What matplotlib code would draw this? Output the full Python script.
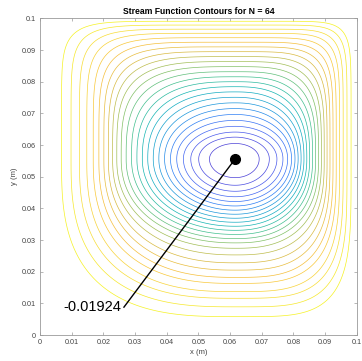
import numpy as np
import matplotlib
matplotlib.use("Agg")
import matplotlib.pyplot as plt
from matplotlib.colors import LinearSegmentedColormap

# --- datos ---
L = 0.1                      # lado de la cavidad [m]
PSI_MIN = -0.01924           # valor mínimo anotado
CENTER = (0.0616, 0.0556)    # posición del mínimo [m]
N_LEVELS = 25                # curvas entre el mínimo y 0

# cruces de las curvas con las rectas que pasan por el centro
# (k = número de curva contando desde el centro)
RIGHT_K = [1, 2, 3, 4, 14, 25]
RIGHT_X = [0.0692, 0.0724, 0.0748, 0.0767, 0.0870, 0.0982]
LEFT_K = [1, 2, 3, 14, 25]
LEFT_X = [0.0535, 0.0501, 0.0476, 0.0272, 0.0068]
UP_K = [1, 2, 3, 12, 21, 22, 23, 24, 25]
UP_Y = [0.0605, 0.0625, 0.0641, 0.0800, 0.0939, 0.0953, 0.0966, 0.0979, 0.0991]
DOWN_K = [1, 2, 3, 15, 16, 17, 18, 19, 20, 21, 22, 23, 24, 25]
DOWN_Y = [0.0497, 0.0473, 0.0454, 0.0291, 0.0274, 0.0253, 0.0228, 0.0205,
          0.0182, 0.0163, 0.0137, 0.0116, 0.0089, 0.0058]

# forma de las esquinas de la curva exterior (exponente de superelipse)
CORNER_P = {"TR": 10.0, "TL": 9.0, "BL": 3.0, "BR": 4.5}

LABEL_TEXT = "-0.01924"
LABEL_XY = (0.0265, 0.0088)
TICKS = [0, 0.01, 0.02, 0.03, 0.04, 0.05, 0.06, 0.07, 0.08, 0.09, 0.1]
TICK_LABELS = ["0", "0.01", "0.02", "0.03", "0.04", "0.05", "0.06", "0.07", "0.08", "0.09", "0.1"]

PARULA = ["#4a3fd6", "#4a5ef0", "#2e7cf6", "#1a9ad8", "#10b3b8", "#3fbf8f",
          "#8fc05e", "#d6ba43", "#f8bf3a", "#f7d93a", "#f5f223"]

NSEG = N_LEVELS + 1
levels = PSI_MIN * (1 - np.arange(1, NSEG) / NSEG)


def pchip(xk, yk, xq):
    # interpolación monótona (Fritsch-Carlson)
    xk = np.asarray(xk, float); yk = np.asarray(yk, float)
    hk = np.diff(xk); dk = np.diff(yk) / hk
    m = np.zeros_like(yk)
    for i in range(1, len(xk) - 1):
        if dk[i - 1] * dk[i] > 0:
            w1 = 2 * hk[i] + hk[i - 1]; w2 = hk[i] + 2 * hk[i - 1]
            m[i] = (w1 + w2) / (w1 / dk[i - 1] + w2 / dk[i])
    m[0] = dk[0]; m[-1] = dk[-1]
    idx = np.clip(np.searchsorted(xk, xq) - 1, 0, len(xk) - 2)
    t = (xq - xk[idx]) / hk[idx]
    h00 = 2 * t**3 - 3 * t**2 + 1; h10 = t**3 - 2 * t**2 + t
    h01 = -2 * t**3 + 3 * t**2; h11 = t**3 - t**2
    return (h00 * yk[idx] + h10 * hk[idx] * m[idx]
            + h01 * yk[idx + 1] + h11 * hk[idx] * m[idx + 1])


def axis_table(ks, dist, wall):
    # semieje R(K) de la curva K a lo largo de una dirección
    s = np.concatenate([[0], np.sqrt(np.asarray(ks) / NSEG), [1]])
    r = np.concatenate([[0], np.asarray(dist), [wall]])
    sf = np.linspace(0, 1, 2001)
    return NSEG * sf**2, pchip(s, r, sf)


xc, yc = CENTER
tab_r = axis_table(RIGHT_K, np.array(RIGHT_X) - xc, L - xc)
tab_l = axis_table(LEFT_K, xc - np.array(LEFT_X), xc)
tab_u = axis_table(UP_K, np.array(UP_Y) - yc, L - yc)
tab_d = axis_table(DOWN_K, yc - np.array(DOWN_Y), yc)

xg = np.linspace(0, L, 321)
X, Y = np.meshgrid(xg, xg, indexing="ij")
dx, dy = np.abs(X - xc), np.abs(Y - yc)
right, top = X >= xc, Y >= yc
pq = np.where(top, np.where(right, CORNER_P["TR"], CORNER_P["TL"]),
              np.where(right, CORNER_P["BR"], CORNER_P["BL"]))


def outside(K):
    rx = np.where(right, np.interp(K, *tab_r), np.interp(K, *tab_l))
    ry = np.where(top, np.interp(K, *tab_u), np.interp(K, *tab_d))
    p = 2 + (pq - 2) * (K / NSEG) ** 3
    return (dx / rx) ** p + (dy / ry) ** p > 1


# nivel K de cada punto: la superelipse K que pasa por él
lo = np.full(X.shape, 1e-6)
hi = np.full(X.shape, float(NSEG))
for _ in range(40):
    mid = 0.5 * (lo + hi)
    out = outside(mid)
    lo = np.where(out, mid, lo)
    hi = np.where(out, hi, mid)
K = 0.5 * (lo + hi)
psi = PSI_MIN * (1 - K / NSEG)

# --- figura ---
fig = plt.figure(figsize=(3.62, 3.61), dpi=100)
ax = fig.add_axes([0.1105, 0.072, 0.875, 0.877])

cmap = LinearSegmentedColormap.from_list("parula", PARULA)
ax.contour(X, Y, psi, levels=levels, cmap=cmap, linewidths=0.5)

ax.plot([LABEL_XY[0], xc], [LABEL_XY[1], yc], color="black", lw=1.0)
ax.plot(xc, yc, "o", color="black", ms=7)
ax.text(LABEL_XY[0] - 0.0008, LABEL_XY[1], LABEL_TEXT, ha="right", va="center",
        fontsize=10.5, family="Liberation Sans")

ax.set_xlim(0, L)
ax.set_ylim(0, L)
ax.set_xticks(TICKS)
ax.set_xticklabels(TICK_LABELS)
ax.set_yticks(TICKS)
ax.set_yticklabels(TICK_LABELS)
ax.tick_params(direction="in", length=2.5, width=0.5, colors="#9a9a9a",
               labelcolor="#444444", labelsize=5.2, top=True, right=True, pad=3)
for sp in ax.spines.values():
    sp.set_color("#9a9a9a")
    sp.set_linewidth(0.6)
for lbl in ax.get_xticklabels() + ax.get_yticklabels():
    lbl.set_family("Liberation Sans")
ax.set_xlabel("x (m)", fontsize=5.5, family="Liberation Sans", color="#444444", labelpad=2)
ax.set_ylabel("y (m)", fontsize=5.5, family="Liberation Sans", color="#444444", labelpad=3)
ax.set_title("Stream Function Contours for N = 64", fontsize=6.2, fontweight="bold",
             family="Liberation Sans", pad=3)

fig.savefig("out.png", dpi=100)
